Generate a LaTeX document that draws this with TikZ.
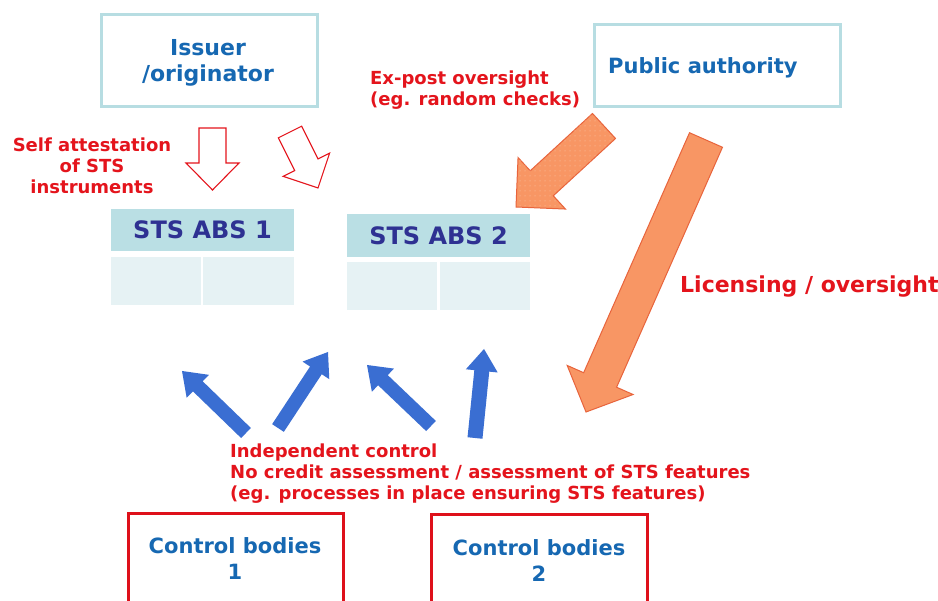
\documentclass[tikz,border=0pt]{standalone}
\usepackage{fontspec}
\setmainfont{DejaVu Sans}
\usetikzlibrary{calc,patterns.meta}
\definecolor{boxblue}{RGB}{183,221,226}
\definecolor{txtblue}{RGB}{22,104,178}
\definecolor{txtred}{RGB}{228,20,28}
\definecolor{boxred}{RGB}{222,16,26}
\definecolor{navy}{RGB}{46,49,146}
\definecolor{hdr}{RGB}{186,223,228}
\definecolor{cellc}{RGB}{230,242,244}
\definecolor{arrblue}{RGB}{58,110,210}
\definecolor{orfill}{RGB}{248,150,100}
\definecolor{oredge}{RGB}{232,100,60}
\newcommand\blockarrow[6]{%
  \coordinate (ba-h) at ($(#3)!#6!(#2)$);
  \draw[#1] ($(#2)!#4!90:(#3)$) -- ($(ba-h)!#4!-90:(#2)$) -- ($(ba-h)!#5!-90:(#2)$)
    -- (#3) -- ($(ba-h)!#5!90:(#2)$) -- ($(ba-h)!#4!90:(#2)$) -- ($(#2)!#4!-90:(#3)$) -- cycle;}
\tikzset{
  bluebox/.style={draw=boxblue, line width=3pt, inner sep=0pt},
  redbox/.style={draw=boxred, line width=3pt},
  bluetext/.style={text=txtblue, font=\fontsize{22}{26}\selectfont\bfseries, align=center},
  redtext/.style={text=txtred, font=\fontsize{18}{21}\selectfont\bfseries, inner sep=0pt},
  hdrbox/.style={fill=hdr, inner sep=0pt, text=navy, font=\fontsize{24}{28}\selectfont\bfseries},
  cellbox/.style={fill=cellc},
  hollowarrow/.style={draw=txtred, fill=white, line width=1.1pt, line join=miter},
  orangearrow/.style={draw=oredge, fill=orfill, line width=1pt},
  dotarrow/.style={draw=oredge, fill=orfill, line width=1pt,
    postaction={pattern={Dots[radius=0.5pt,distance=5pt]}, pattern color=white!50!orfill}},
  bluearrow/.style={fill=arrblue, draw=none}
}
\begin{document}
\begin{tikzpicture}[x=1pt,y=-1pt]
\useasboundingbox (0,0) rectangle (938,601);
\clip (0,0) rectangle (938,601);
\fill[white] (0,0) rectangle (938,601);

% top boxes
\node[bluebox, minimum width=216pt, minimum height=92pt] (issuer) at (209,61) {};
\node[bluetext] (issuertext) at (208,63) {Issuer\\/originator};
\node[bluebox, minimum width=246pt, minimum height=82pt] (pa) at (717,66) {};
\node[bluetext, font=\fontsize{21}{26}\selectfont\bfseries, anchor=west, inner sep=0pt] (patext) at (608,68) {Public authority};

% STS tables
\node[hdrbox, minimum width=183pt, minimum height=42pt] (abs1) at (202.5,230) {STS ABS 1};
\fill[cellbox] (111,257) rectangle (201,305);
\fill[cellbox] (203,257) rectangle (294,305);
\node[hdrbox, minimum width=183pt, minimum height=43pt] (abs2) at (438.5,235.5) {STS ABS 2};
\fill[cellbox] (347,262) rectangle (437,310);
\fill[cellbox] (440,262) rectangle (530,310);

% labels
\node[redtext, align=center] (self) at (92,166) {Self attestation\\of STS\\instruments};
\node[redtext, align=left, anchor=west] (expost) at (370,90) {Ex-post oversight\\(eg. random checks)};
\node[redtext, font=\fontsize{22}{26}\selectfont\bfseries, anchor=west] (lic) at (680,287) {Licensing / oversight};
\node[redtext, align=left, anchor=west] (indep) at (230,474) {Independent control\\No credit assessment / assessment of STS features\\(eg. processes in place ensuring STS features)};

% hollow arrows
\coordinate (h1t) at (212.5,128); \coordinate (h1p) at (212.5,190);
\blockarrow{hollowarrow}{h1t}{h1p}{13.5pt}{26.5pt}{27pt}
\coordinate (h2t) at (290,132); \coordinate (h2p) at (318,188);
\blockarrow{hollowarrow}{h2t}{h2p}{13pt}{26pt}{26pt}

% orange arrows
\coordinate (o1t) at (604,126); \coordinate (o1p) at (516,207);
\blockarrow{dotarrow}{o1t}{o1p}{17pt}{35pt}{35pt}
\coordinate (o2t) at (706,140); \coordinate (o2p) at (586,412);
\blockarrow{orangearrow}{o2t}{o2p}{18pt}{36pt}{35pt}

% blue arrows
\coordinate (b1t) at (246,433); \coordinate (b1p) at (182,371);
\blockarrow{bluearrow}{b1t}{b1p}{7pt}{16pt}{22pt}
\coordinate (b2t) at (278,428); \coordinate (b2p) at (328,352);
\blockarrow{bluearrow}{b2t}{b2p}{7pt}{16pt}{22pt}
\coordinate (b3t) at (431,426); \coordinate (b3p) at (367,365);
\blockarrow{bluearrow}{b3t}{b3p}{7pt}{16pt}{22pt}
\coordinate (b4t) at (475,438); \coordinate (b4p) at (484,349);
\blockarrow{bluearrow}{b4t}{b4p}{7.5pt}{16pt}{22pt}

% control bodies
\draw[redbox] (128,514) rectangle (343,640);
\node[bluetext, font=\fontsize{21}{26}\selectfont\bfseries] (cb1) at (235,559) {Control bodies\\1};
\draw[redbox] (431,515) rectangle (647,640);
\node[bluetext, font=\fontsize{21}{26}\selectfont\bfseries] (cb2) at (539,561) {Control bodies\\2};
\end{tikzpicture}
\end{document}
